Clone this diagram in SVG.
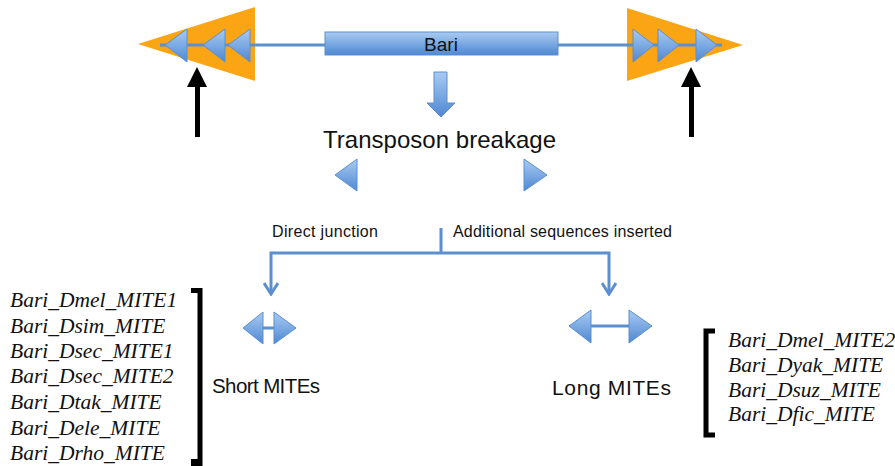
<svg xmlns="http://www.w3.org/2000/svg" width="895" height="466" viewBox="0 0 895 466">
  <defs>
    <linearGradient id="blueFill" x1="0" y1="0" x2="0" y2="1">
      <stop offset="0" stop-color="#a9cbf2"/>
      <stop offset="1" stop-color="#4f88d2"/>
    </linearGradient>
    <marker id="openHeadDown" viewBox="0 0 16 14" refX="8" refY="12" markerWidth="16" markerHeight="14" markerUnits="userSpaceOnUse" orient="0">
      <path d="M1,1 L8,12 L15,1" fill="none" stroke="#5b8fd0" stroke-width="3"/>
    </marker>
  </defs>
  <style>
    .orange { fill: #fba514; }
    .blue { fill: url(#blueFill); stroke: #5b8fd0; stroke-width: 1; }
    .bline { stroke: #5b8fd0; stroke-width: 3; fill: none; }
    .black { fill: #000; }
    .sans { font-family: "Liberation Sans", Arial, sans-serif; fill: #111; }
    .ital { font-family: "Liberation Serif", "Times New Roman", serif; font-style: italic; font-size: 21.5px; fill: #111; }
    .bracket { fill: none; stroke: #000; stroke-width: 5; }
  </style>

  <rect width="895" height="466" fill="#fff"/>

  <!-- transposon with its terminal inverted repeats -->
  <g id="transposon">
    <polygon class="orange" points="138,44 255,7 255,81"/>
    <polygon class="orange" points="627,8 627,81 743,45"/>
    <line class="bline" x1="160" y1="45" x2="325" y2="45"/>
    <line class="bline" x1="558" y1="45" x2="722" y2="45"/>
    <polygon class="blue" points="165,45 187,29 187,62"/>
    <polygon class="blue" points="203,45 225,29 225,62"/>
    <polygon class="blue" points="228,45 250,29 250,62"/>
    <polygon class="blue" points="633,29 633,62 654,45"/>
    <polygon class="blue" points="658,29 658,62 679,45"/>
    <polygon class="blue" points="696,29 696,62 717,45"/>
    <rect class="blue" x="325" y="32" width="233" height="23"/>
    <text class="sans" x="441" y="51" font-size="19" text-anchor="middle">Bari</text>
  </g>

  <!-- breakpoint arrows -->
  <g id="break-left">
    <rect class="black" x="195" y="84" width="5" height="53"/>
    <polygon class="black" points="187,87 207,87 197,67"/>
  </g>
  <g id="break-right">
    <rect class="black" x="689" y="84" width="5" height="53"/>
    <polygon class="black" points="681,87 701,87 691,67"/>
  </g>

  <g id="down-arrow">
    <polygon class="blue" points="434,72 447,72 447,103 455,103 441,117 427,103 434,103"/>
  </g>

  <g id="breakage">
    <text class="sans" x="323" y="148" font-size="24" textLength="233">Transposon breakage</text>
    <polygon class="blue" points="335,175 357,159 357,191"/>
    <polygon class="blue" points="524,159 524,191 547,175"/>
  </g>

  <!-- branching connector -->
  <g id="connectors">
    <polyline class="bline" points="441,228 441,253"/>
    <polyline class="bline" points="271,294 271,253 609,253 609,294" marker-start="url(#openHeadDown)" marker-end="url(#openHeadDown)"/>
  </g>
  <text class="sans" x="272" y="237" font-size="16" textLength="106">Direct junction</text>
  <text class="sans" x="453" y="237" font-size="16" textLength="219">Additional sequences inserted</text>

  <g id="short-mites">
    <polygon class="blue" points="243,328 263,312 263,344"/>
    <polygon class="blue" points="274,312 274,344 296,328"/>
    <line class="bline" x1="263" y1="328" x2="274" y2="328"/>
    <text class="sans" x="212" y="393" font-size="20.5" textLength="108">Short MITEs</text>
  </g>

  <g id="long-mites">
    <polygon class="blue" points="569,326 591,310 591,343"/>
    <polygon class="blue" points="629,310 629,343 652,326"/>
    <line class="bline" x1="591" y1="326" x2="629" y2="326"/>
    <text class="sans" x="552" y="395" font-size="21" textLength="119">Long MITEs</text>
  </g>

  <g id="short-list">
    <text class="ital" x="10" y="307">Bari_Dmel_MITE1</text>
    <text class="ital" x="10" y="333">Bari_Dsim_MITE</text>
    <text class="ital" x="10" y="358">Bari_Dsec_MITE1</text>
    <text class="ital" x="10" y="383">Bari_Dsec_MITE2</text>
    <text class="ital" x="10" y="409">Bari_Dtak_MITE</text>
    <text class="ital" x="10" y="435">Bari_Dele_MITE</text>
    <text class="ital" x="10" y="460">Bari_Drho_MITE</text>
    <polyline class="bracket" points="191,290.5 200,290.5 200,466"/>
    <rect class="black" x="191" y="459" width="9" height="7"/>
  </g>

  <g id="long-list">
    <polyline class="bracket" points="715,331 706,331 706,435 715,435"/>
    <text class="ital" x="728" y="347">Bari_Dmel_MITE2</text>
    <text class="ital" x="728" y="372">Bari_Dyak_MITE</text>
    <text class="ital" x="728" y="397">Bari_Dsuz_MITE</text>
    <text class="ital" x="728" y="421">Bari_Dfic_MITE</text>
  </g>
</svg>
